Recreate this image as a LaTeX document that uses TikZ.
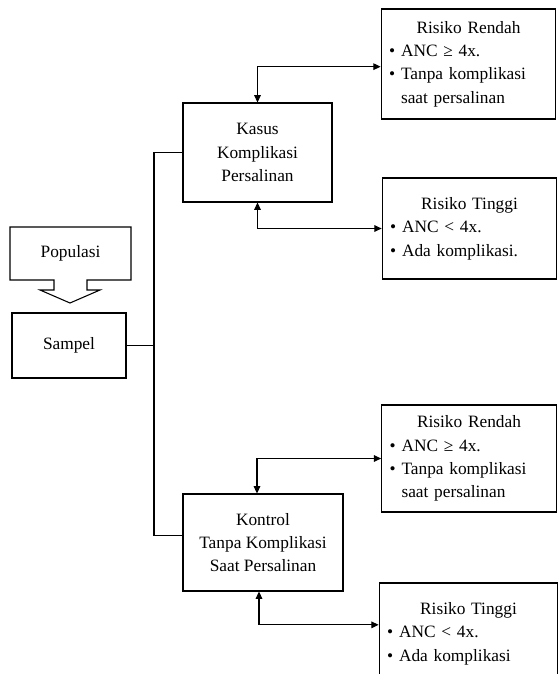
\documentclass[tikz,border=0pt]{standalone}
\usepackage{fontspec}
\setmainfont{Liberation Serif}
\usepackage{tikz}
\usetikzlibrary{positioning}
\usetikzlibrary{arrows.meta}

\tikzset{riskbox/.style={align=left,inner xsep=6pt,text width=119pt,minimum height=#1}}

\begin{document}
\begin{tikzpicture}[x=0.75pt,y=-0.75pt,font=\fontsize{13}{17.5}\selectfont,
   >={Triangle[length=5.5pt,width=5pt]}]
\useasboundingbox (0,0) rectangle (558,674);

% populasi (block arrow)
\draw[line width=0.8pt] (10,227) -- (131,227) -- (131,280) -- (87,280) -- (87,290) -- (100,290)
   -- (70,303) -- (40,290) -- (54,290) -- (54,280) -- (10,280) -- cycle;
\node (pop) at (70.5,253.5) {Populasi};

\begin{scope}[every node/.style={draw,line width=0.8pt,align=center}]
   \node[minimum width=85.5pt, minimum height=48.75pt] (sampel) at (69,345.5) {Sampel};

   \node[minimum width=111.75pt, minimum height=74.25pt] (kasus) at (257.5,152.5)
      {Kasus\\Komplikasi\\Persalinan};
   \node[minimum width=120pt, minimum height=72.75pt] (kontrol) at (263,542.5)
      {Kontrol\\Tanpa Komplikasi\\Saat Persalinan};

   \node[riskbox=82.5pt] (rendahA) at (468.5,64)
      {{\centering Risiko Rendah\par}\textbullet\ ANC ≥ 4x.\\\textbullet\ Tanpa komplikasi\\\phantom{\textbullet\ }saat persalinan};
   \node[riskbox=75.75pt] (tinggiA) at (469.5,228.5)
      {{\centering Risiko Tinggi\par}\textbullet\ ANC < 4x.\\\textbullet\ Ada komplikasi.};
   \node[riskbox=80.25pt] (rendahB) at (469,458.5)
      {{\centering Risiko Rendah\par}\textbullet\ ANC ≥ 4x.\\\textbullet\ Tanpa komplikasi\\\phantom{\textbullet\ }saat persalinan};
   \node[riskbox=75.75pt, text width=122pt] (tinggiB) at (468.5,633.5)
      {{\centering Risiko Tinggi\par}\textbullet\ ANC < 4x.\\\textbullet\ Ada komplikasi};
\end{scope}

\coordinate (trunk) at (154,345.5);

\begin{scope}[line width=0.8pt]
   \draw (sampel.east) -- (trunk);
   \draw (kasus.west) -| (trunk) |- ([yshift=5pt]kontrol.west);

   \draw [<->] (kasus.north) |- ([yshift=-2pt]rendahA.west);
   \draw [<->] (kasus.south) |- (tinggiA.west);
   \draw [<->] ([xshift=-4.5pt]kontrol.north) |- (rendahB.west);
   \draw [<->] ([xshift=-3pt]kontrol.south) |- ([yshift=6.5pt]tinggiB.west);
\end{scope}
\end{tikzpicture}
\end{document}
